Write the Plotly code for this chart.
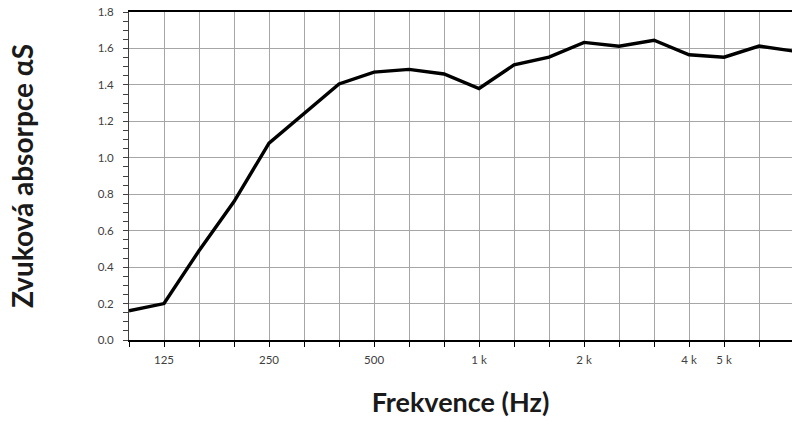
import plotly.graph_objects as go

freqs = ["100", "125", "160", "200", "250", "315", "400", "500", "630", "800",
         "1000", "1250", "1600", "2000", "2500", "3150", "4000", "5000", "6300", "8000"]
alpha_s = [0.16, 0.20, 0.49, 0.76, 1.08, 1.24, 1.405, 1.47, 1.485, 1.46,
           1.38, 1.51, 1.552, 1.633, 1.612, 1.645, 1.565, 1.552, 1.613, 1.585]
tick_text = ["", "125", "", "", "250", "", "", "500", "", "",
             "1 k", "", "", "2 k", "", "", "4 k", "5 k", "", ""]
y_ticks = [0.0, 0.2, 0.4, 0.6, 0.8, 1.0, 1.2, 1.4, 1.6, 1.8]

fig = go.Figure()
fig.add_trace(go.Scatter(
    x=freqs, y=alpha_s, mode="lines",
    line=dict(color="#000000", width=3.4),
    showlegend=False, hoverinfo="skip"))

fig.update_layout(
    width=792, height=421,
    margin=dict(l=129, r=0, t=12, b=81),
    paper_bgcolor="white", plot_bgcolor="white",
    font=dict(family="Lato, Noto Sans, sans-serif", color="#404040"),
    xaxis=dict(
        type="category", automargin=False,
        categoryorder="array", categoryarray=freqs,
        range=[0, 18.94],
        tickmode="array", tickvals=freqs, ticktext=tick_text,
        showgrid=True, gridcolor="#a6a6a6", gridwidth=1,
        showline=True, linecolor="#000000", linewidth=1.5, mirror=True,
        ticks="outside", ticklen=5, tickcolor="#000000",
        ticklabelstandoff=3,
        tickfont=dict(size=11.5, color="#404040"),
        title=dict(text="<b>Frekvence (Hz)</b>", standoff=29,
                   font=dict(size=27, color="#1a1a1a")),
        zeroline=False,
    ),
    yaxis=dict(
        range=[0, 1.8], automargin=False,
        tickmode="array", tickvals=y_ticks,
        ticktext=[f"{v:.1f}" for v in y_ticks],
        ticklabeloverflow="allow",
        showgrid=True, gridcolor="#a6a6a6", gridwidth=1,
        showline=True, linecolor="#404040", linewidth=1,
        ticks="outside", ticklen=5, tickcolor="#404040",
        ticklabelstandoff=7,
        minor=dict(dtick=0.05, ticks="outside", ticklen=5, tickcolor="#404040", showgrid=False),
        tickfont=dict(size=11.5, color="#404040"),
        title=dict(text="<b>Zvuková absorpce αS</b>", standoff=55,
                   font=dict(size=28, color="#1a1a1a")),
        zeroline=False,
    ),
)

fig.write_html("out.html", config={"displayModeBar": False},
               post_script="document.body.style.margin='0';")
